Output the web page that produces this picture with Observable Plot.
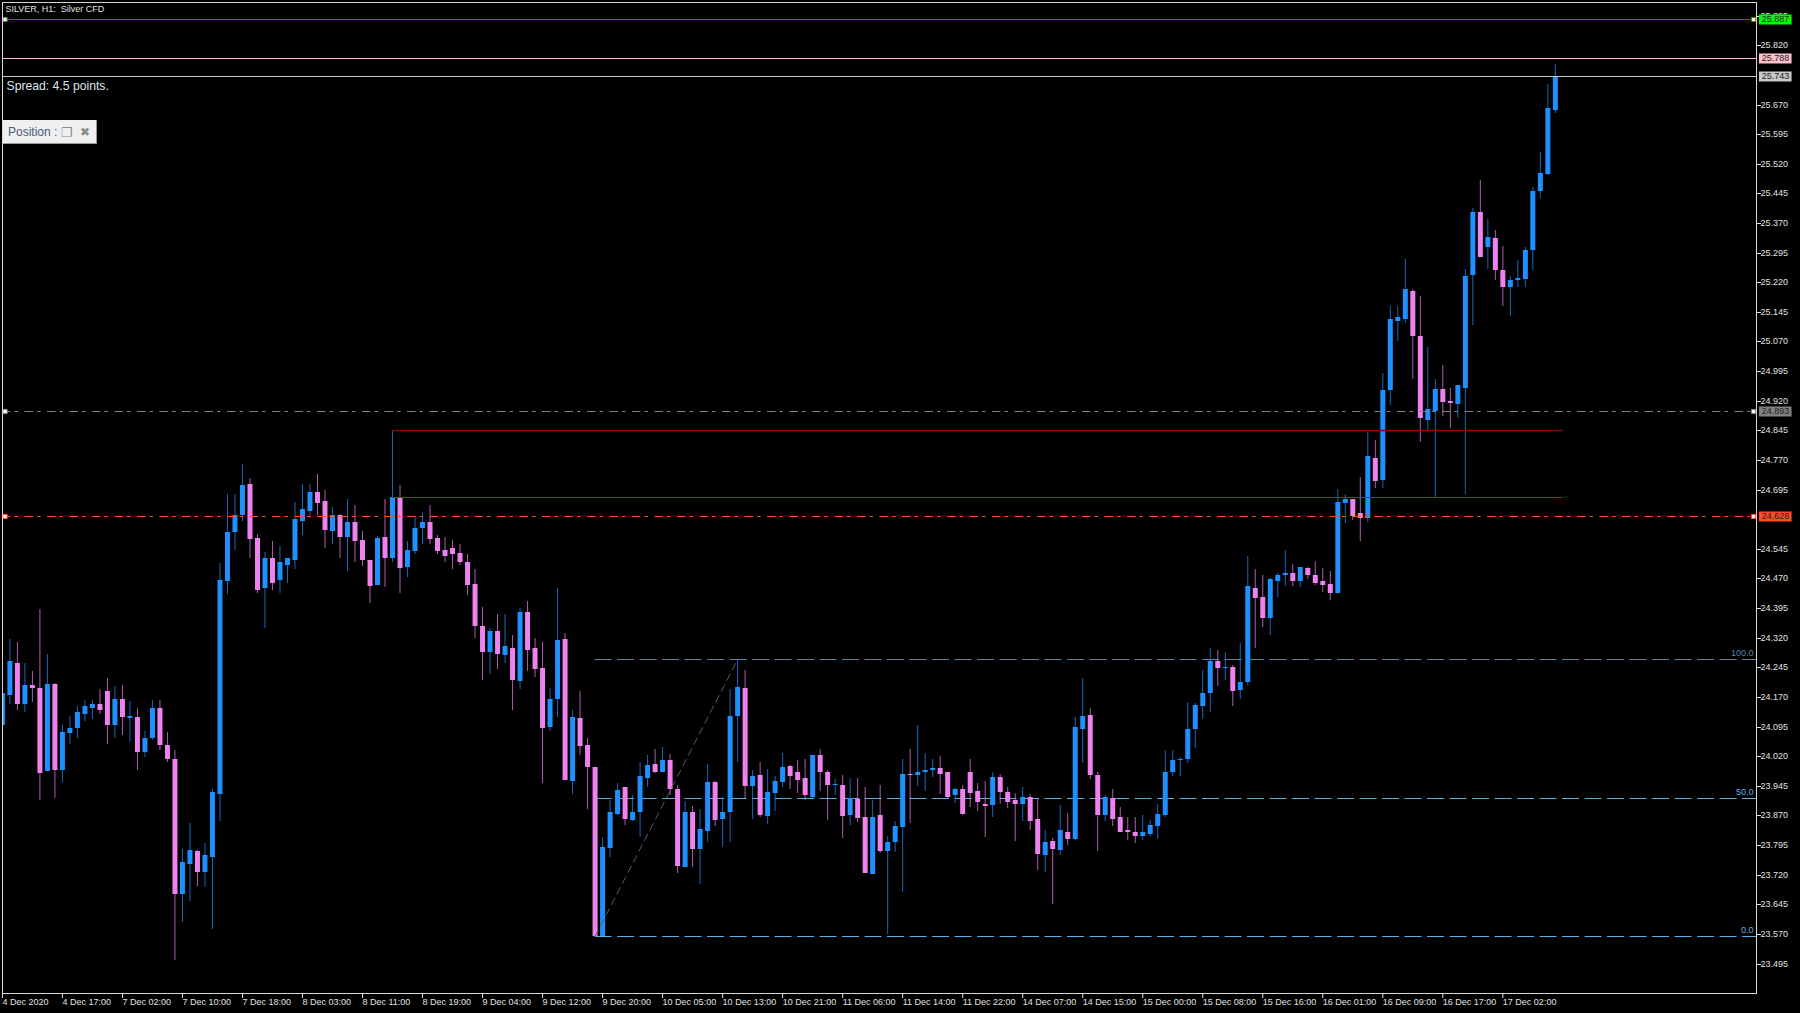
<!DOCTYPE html>
<html>
<head>
<meta charset="utf-8">
<script src="https://cdn.jsdelivr.net/npm/d3@7"></script>
<script src="https://cdn.jsdelivr.net/npm/@observablehq/plot@0.6"></script>
<style>
html,body{margin:0;padding:0;background:#000;overflow:hidden}
#wrap{position:relative;width:1800px;height:1013px}
#position{position:absolute;left:3px;top:120px;width:94px;height:24px;background:#efefef;border-right:1px solid #999;border-bottom:1px solid #999;box-sizing:border-box;font:12px "Liberation Sans",sans-serif;color:#4a5a78;line-height:25px;padding-left:5px;white-space:nowrap;overflow:hidden}
#position .i{position:absolute;top:0;color:#8a8a8a}
</style>
</head>
<body>
<div id="wrap"><div id="chart"></div><div id="position">Position :<span class="i" style="left:58px;font-size:13px">&#10064;</span><span class="i" style="left:77px;font-size:12px">&#10006;</span></div></div>
<script>
const high = [
24.200,24.316,24.310,24.255,24.235,24.392,24.279,24.206,24.100,24.121,
24.147,24.162,24.162,24.189,24.217,24.197,24.200,24.159,24.141,24.083,
24.162,24.162,24.082,24.037,23.784,23.850,23.782,23.801,23.936,24.508,
24.683,24.685,24.761,24.725,24.582,24.538,24.564,24.551,24.523,24.663,
24.708,24.708,24.735,24.693,24.651,24.634,24.672,24.656,24.590,24.518,
24.578,24.670,24.847,24.706,24.565,24.629,24.637,24.656,24.580,24.575,
24.568,24.558,24.531,24.493,24.397,24.345,24.379,24.380,24.328,24.395,
24.414,24.320,24.310,24.193,24.445,24.332,24.136,24.186,24.065,23.994,
23.815,23.910,23.951,23.943,23.922,24.005,24.024,24.039,24.044,24.026,
23.948,23.907,23.894,23.887,24.000,23.957,23.916,24.191,24.265,24.238,
23.984,24.006,23.988,23.970,24.027,23.998,24.010,24.014,24.024,24.039,
23.984,23.963,23.972,23.965,23.965,23.943,23.910,23.948,23.818,23.856,
24.014,24.039,24.100,24.027,24.012,24.021,23.981,23.940,23.946,24.014,
23.953,23.958,23.979,23.976,23.943,23.926,23.941,23.925,23.911,23.832,
23.813,23.896,23.877,24.119,24.219,24.143,23.979,23.921,23.938,23.892,
23.867,23.865,23.870,23.858,23.900,24.037,24.037,24.019,24.158,24.155,
24.238,24.295,24.290,24.283,24.252,24.307,24.528,24.494,24.478,24.470,
24.485,24.543,24.506,24.500,24.500,24.514,24.497,24.488,24.697,24.684,
24.670,24.726,24.842,24.820,24.989,25.161,25.161,25.278,25.202,25.186,
25.057,24.974,25.010,24.953,24.961,25.254,25.409,25.480,25.381,25.352,
25.311,25.235,25.276,25.310,25.461,25.551,25.721,25.772];
const low = [
24.080,24.151,24.138,24.132,24.157,23.908,23.982,23.915,23.956,24.052,
24.067,24.110,24.115,24.126,24.052,24.067,24.073,24.057,23.986,24.017,
24.062,24.035,24.005,23.504,23.600,23.654,23.691,23.689,23.583,23.856,
24.430,24.543,24.615,24.521,24.433,24.344,24.440,24.433,24.458,24.493,
24.580,24.623,24.632,24.548,24.558,24.521,24.488,24.511,24.501,24.407,
24.454,24.448,24.513,24.433,24.475,24.532,24.558,24.558,24.532,24.511,
24.494,24.504,24.428,24.320,24.212,24.228,24.242,24.256,24.136,24.191,
24.235,24.221,23.953,24.083,24.119,23.960,23.924,24.024,23.887,23.566,
23.566,23.766,23.871,23.845,23.856,23.815,23.941,23.977,23.980,23.921,
23.725,23.740,23.739,23.696,23.802,23.844,23.791,23.804,24.005,23.915,
23.862,23.866,23.849,23.882,23.943,23.938,23.927,23.908,23.914,23.932,
23.858,23.922,23.813,23.847,23.853,23.725,23.723,23.775,23.571,23.777,
23.676,23.851,23.944,23.932,23.968,23.925,23.915,23.901,23.870,23.891,
23.882,23.815,23.865,23.899,23.888,23.806,23.855,23.832,23.732,23.727,
23.647,23.769,23.796,23.809,24.002,23.962,23.779,23.855,23.844,23.827,
23.807,23.801,23.807,23.819,23.810,23.865,23.971,23.969,24.002,24.040,
24.115,24.133,24.197,24.213,24.148,24.164,24.200,24.293,24.347,24.326,
24.423,24.452,24.451,24.449,24.468,24.454,24.435,24.416,24.430,24.611,
24.619,24.566,24.612,24.699,24.699,24.908,25.071,25.116,24.976,24.815,
24.847,24.677,24.881,24.850,24.876,24.684,25.111,25.285,25.254,25.225,
25.159,25.134,25.207,25.207,25.250,25.434,25.491,25.648];
const open = [
24.100,24.176,24.257,24.151,24.200,24.193,23.982,24.202,23.986,24.079,
24.091,24.128,24.141,24.153,24.184,24.098,24.166,24.117,24.120,24.032,
24.065,24.143,24.048,24.014,23.670,23.747,23.780,23.727,23.766,23.925,
24.464,24.587,24.632,24.708,24.573,24.445,24.523,24.466,24.505,24.518,
24.616,24.642,24.689,24.665,24.590,24.632,24.575,24.613,24.568,24.518,
24.454,24.575,24.523,24.675,24.499,24.539,24.597,24.613,24.573,24.542,
24.548,24.535,24.513,24.456,24.349,24.283,24.337,24.276,24.295,24.210,
24.386,24.293,24.243,24.095,24.165,24.316,23.958,24.117,24.048,23.994,
23.566,23.787,23.875,23.943,23.858,23.878,23.965,24.001,23.980,24.010,
23.936,23.740,23.879,23.785,23.830,23.955,23.861,23.879,24.122,24.193,
23.944,23.972,23.868,23.927,23.954,23.996,23.979,23.965,23.918,24.022,
23.979,23.946,23.948,23.870,23.913,23.867,23.723,23.870,23.780,23.802,
23.842,23.976,23.972,23.981,23.984,23.991,23.979,23.921,23.938,23.981,
23.932,23.900,23.896,23.968,23.929,23.910,23.900,23.918,23.862,23.770,
23.806,23.782,23.829,23.810,24.088,24.124,23.972,23.870,23.915,23.867,
23.834,23.829,23.818,23.824,23.844,23.870,23.981,24.010,24.014,24.088,
24.148,24.179,24.262,24.243,24.247,24.188,24.207,24.447,24.424,24.371,
24.463,24.478,24.483,24.463,24.497,24.480,24.463,24.457,24.433,24.661,
24.670,24.637,24.623,24.776,24.720,24.946,25.121,25.126,25.199,25.085,
24.872,24.893,24.951,24.920,24.913,24.953,25.238,25.398,25.309,25.332,
25.250,25.209,25.226,25.228,25.302,25.450,25.494,25.657];
const close = [
24.181,24.260,24.151,24.200,24.193,23.978,24.202,23.986,24.081,24.091,
24.133,24.146,24.153,24.137,24.100,24.166,24.120,24.122,24.032,24.065,
24.143,24.048,24.012,23.672,23.751,23.782,23.726,23.770,23.929,24.466,
24.587,24.632,24.706,24.570,24.442,24.523,24.459,24.511,24.523,24.620,
24.645,24.689,24.661,24.592,24.631,24.574,24.613,24.566,24.516,24.452,
24.573,24.521,24.677,24.497,24.542,24.599,24.613,24.570,24.539,24.526,
24.532,24.511,24.454,24.349,24.283,24.336,24.278,24.298,24.212,24.386,
24.290,24.240,24.091,24.166,24.314,23.960,24.119,24.045,23.994,23.566,
23.791,23.879,23.934,23.861,23.879,23.970,23.998,23.981,24.010,23.936,
23.742,23.879,23.785,23.835,23.955,23.858,23.879,24.121,24.195,23.944,
23.970,23.870,23.929,23.958,23.993,23.970,23.959,23.921,24.024,23.980,
23.947,23.949,23.868,23.914,23.863,23.725,23.867,23.781,23.804,23.844,
23.976,23.972,23.981,23.986,23.991,23.976,23.918,23.938,23.875,23.926,
23.905,23.893,23.968,23.929,23.905,23.900,23.917,23.857,23.772,23.804,
23.784,23.832,23.810,24.093,24.121,23.972,23.870,23.916,23.862,23.829,
23.827,23.819,23.827,23.846,23.875,23.981,24.010,24.014,24.088,24.150,
24.181,24.262,24.243,24.247,24.186,24.207,24.450,24.421,24.371,24.468,
24.480,24.483,24.463,24.500,24.478,24.459,24.454,24.433,24.663,24.670,
24.629,24.623,24.779,24.718,24.948,25.128,25.131,25.202,25.083,24.877,
24.898,24.951,24.917,24.915,24.960,25.235,25.397,25.285,25.335,25.250,
25.207,25.226,25.231,25.302,25.451,25.496,25.662,25.742];

const priceTicks = [25.895,25.820,25.670,25.595,25.520,25.445,25.370,25.295,25.220,25.145,25.070,24.995,24.920,24.845,24.770,24.695,24.545,24.470,24.395,24.320,24.245,24.170,24.095,24.020,23.945,23.870,23.795,23.720,23.645,23.570,23.495];
const timeTickBars = [0,8,16,24,32,40,48,56,64,72,80,88,96,104,112,120,128,136,144,152,160,168,176,184,192,200];
const timeTickLabels = ["4 Dec 2020","4 Dec 17:00","7 Dec 02:00","7 Dec 10:00","7 Dec 18:00","8 Dec 03:00","8 Dec 11:00","8 Dec 19:00","9 Dec 04:00","9 Dec 12:00","9 Dec 20:00","10 Dec 05:00","10 Dec 13:00","10 Dec 21:00","11 Dec 06:00","11 Dec 14:00","11 Dec 22:00","14 Dec 07:00","14 Dec 15:00","15 Dec 00:00","15 Dec 08:00","15 Dec 16:00","16 Dec 01:00","16 Dec 09:00","16 Dec 17:00","17 Dec 02:00"];

const fibPrices = [24.266,23.915,23.565];
const fibLabels = ["100.0","50.0","0.0"];
const fibTrendBars = [79,98];
const fibTrendPrices = [23.565,24.266];
const zoneTop = 24.847, zoneBottom = 24.677, zoneStartBar = 52, zoneEndBar = 208, fibStartBar = 79;
const solidPrices = [25.887,25.788,25.743];
const dashPrices = [24.893,24.628];

const BLUE="#1e90ff", PINK="#ee82ee";
const FIB_COLORS=["#4f86a8","#62aee0","#62aee0"];
const SOLID_COLORS=["#00a000","#ffc0cb","#c8c8c8"], SOLID_BOXES=["#00ff00","#ffc0cb","#c8c8c8"];
const DASH_COLORS=["#808080","#ff4a26"];
const FONT='"Liberation Sans",sans-serif';
const TXT=9;

const candles = open.map((o,i)=>({bar:i,open:o,close:close[i],high:high[i],low:low[i]}));
const up = candles.filter(d=>d.close>=d.open);
const down = candles.filter(d=>d.close<d.open);
const fibTable = fibPrices.map((price,i)=>({price,label:fibLabels[i],color:FIB_COLORS[i]}));
const trendTable = fibTrendBars.map((bar,i)=>({bar,price:fibTrendPrices[i]}));
const solidTable = solidPrices.map((price,i)=>({price,color:SOLID_COLORS[i],box:SOLID_BOXES[i]}));
const dashTable = dashPrices.map((price,i)=>({price,color:DASH_COLORS[i],box:DASH_COLORS[i]}));

const xLeft=0.0133, xRight=233.81, boxL=234.2, boxR=238.55, boxC=236.35;
const anchorBars=[0.35,233.42];
const anchors=[solidTable[0],...dashTable].flatMap(l=>anchorBars.map(bar=>({bar,price:l.price,color:l.color})));
const priceBoxes=[...solidTable,...dashTable];

const wick=(data,c)=>Plot.ruleX(data,{x:"bar",y1:"low",y2:"high",stroke:c,strokeWidth:1,strokeOpacity:0.72,clip:true});
const body=(data,c)=>Plot.ruleX(data,{x:"bar",y1:"open",y2:"close",stroke:c,strokeWidth:5,clip:true});

const chart = Plot.plot({
  width:1800,height:1013,
  marginLeft:2,marginRight:44,marginTop:2,marginBottom:20,
  style:{background:"#000",color:"#e2e2e2",fontFamily:FONT},
  x:{domain:[xLeft,xRight],axis:null},
  y:{domain:[23.4206,25.9295],axis:null,round:true},
  marks:[
    Plot.ruleY(fibTable,{y:"price",x1:fibStartBar,x2:xRight,stroke:"color",strokeWidth:1,strokeDasharray:"17,5.5"}),
    wick(up,BLUE),wick(down,PINK),body(up,BLUE),body(down,PINK),
    Plot.line(trendTable,{x:"bar",y:"price",stroke:"#5a5a5a",strokeWidth:1,strokeDasharray:"7,5"}),
    Plot.ruleY([zoneTop],{x1:zoneStartBar,x2:zoneEndBar,stroke:"#8b0000",strokeWidth:1.6}),
    Plot.ruleY([zoneBottom],{x1:zoneStartBar,x2:zoneEndBar,stroke:"#d01010",strokeWidth:1}),
    Plot.ruleY(solidTable,{y:"price",x1:xLeft,x2:xRight,stroke:"color",strokeWidth:1}),
    Plot.ruleY(dashTable,{y:"price",x1:xLeft,x2:xRight,stroke:"color",strokeWidth:1,strokeDasharray:"8.5,4,3.5,6.5"}),
    Plot.dot(anchors,{x:"bar",y:"price",symbol:"square",r:2.4,fill:"#fff",stroke:"color",strokeWidth:1}),
    Plot.text(fibTable,{x:xRight,y:"price",text:"label",textAnchor:"end",dx:-3,dy:-6.5,fill:"color",fontSize:TXT}),
    Plot.frame({stroke:"#d8d8d8"}),
    Plot.axisY(priceTicks,{anchor:"right",tickSize:4,tickPadding:0,tickFormat:d3.format(".3f"),fontSize:TXT,label:null,stroke:"#e2e2e2"}),
    Plot.axisX(timeTickBars,{anchor:"bottom",tickSize:5,tickPadding:0,tickFormat:i=>timeTickLabels[i/8],textAnchor:"start",fontSize:TXT,label:null,stroke:"#e2e2e2"}),
    Plot.ruleY(priceBoxes,{y:"price",x1:boxL,x2:boxR,stroke:"box",strokeWidth:10,clip:false}),
    Plot.text(priceBoxes,{x:boxC,y:"price",text:d=>d3.format(".3f")(d.price),fill:"#222",fontSize:TXT}),
    Plot.text(["SILVER, H1:  Silver CFD"],{frameAnchor:"top-left",dx:3,dy:3,fontSize:TXT,fill:"#e2e2e2",textAnchor:"start"}),
    Plot.text(["Spread: 4.5 points."],{frameAnchor:"top-left",dx:4,dy:79,fontSize:12.2,fill:"#dfe6ee",textAnchor:"start"})
  ]
});
document.getElementById("chart").appendChild(chart);
</script>
</body>
</html>
